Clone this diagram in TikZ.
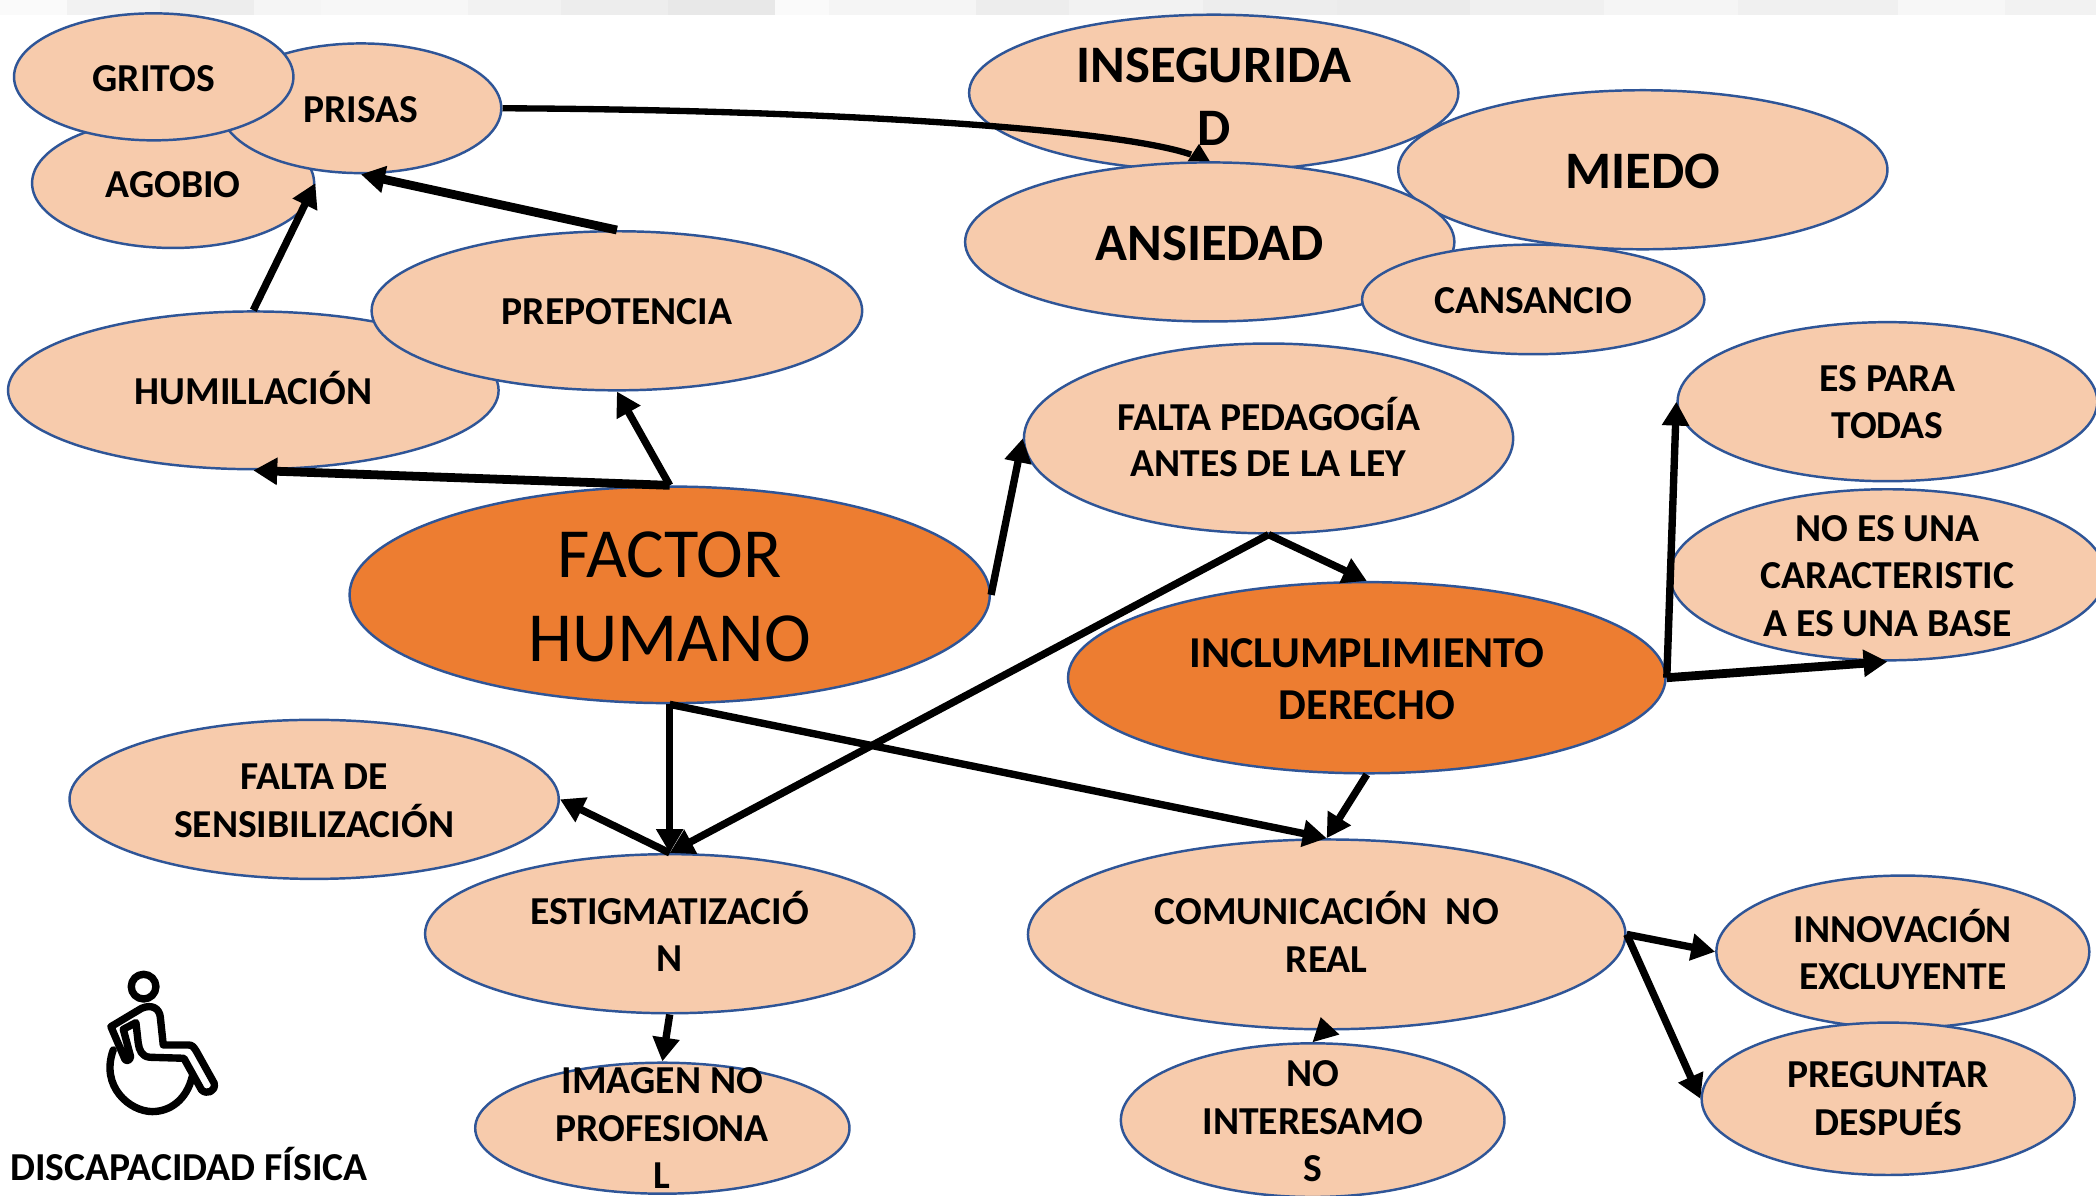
\documentclass[tikz,border=0pt]{standalone}
\usepackage{fontspec}
\setmainfont{Carlito}
\usetikzlibrary{shapes.geometric,arrows.meta}
\definecolor{peach}{HTML}{F7CBAC}
\definecolor{orng}{HTML}{ED7D31}
\definecolor{edgeblue}{HTML}{2F5597}
\tikzset{
  x=0.013367cm,y=-0.013367cm,
  oval/.style={ellipse,draw=edgeblue,line width=0.7pt,fill=peach,inner sep=0pt},
  hot/.style={fill=orng},
  tx/.style={inner sep=0pt,align=center,text=black,font=\bfseries\fontsize{11.27}{13.5}\selectfont},
  txtight/.style={tx,font=\bfseries\fontsize{11.27}{13.2}\selectfont},
  txbig/.style={tx,font=\bfseries\fontsize{15}{17.9}\selectfont},
  arw/.style={-{Triangle[length=6.8pt,width=7.4pt]},line width=2.1pt,black},
  arwb/.style={-{Triangle[length=6.8pt,width=7.4pt]},line width=2.5pt,black},
}
% [text style], name, x, y, width, height, text, extra node options
\newcommand{\ov}[8][tx]{\node[oval,#8,minimum width=#5*0.13367mm,minimum height=#6*0.13367mm,label={[#1]center:#7}] (#2) at (#3,#4) {};}
\begin{document}
\begin{tikzpicture}
\useasboundingbox (0,0) rectangle (1568,894.7);
\fill[white] (0,0) rectangle (1568,894.7);
% blurred strip along the top edge
\foreach \a/\b/\g in {0/50/98,50/120/95,120/190/93,190/240/96,240/350/97,350/420/95,420/500/93,500/580/91,580/620/98,620/730/96,730/800/93,800/900/95,900/1000/93,1000/1100/92,1100/1200/94,1200/1300/96,1300/1420/94,1420/1500/97,1500/1568/95}
  \fill[black!\the\numexpr100-\g\relax] (\a,0) rectangle (\b,11);
% ellipses, back to front
\ov[tx,yshift=-0.38pt]{agobio}{129.5}{137}{211}{97}{AGOBIO}{}
\ov[tx,yshift=-0.38pt]{prisas}{270}{81}{210}{97}{PRISAS}{}
\ov[tx,yshift=-0.38pt]{gritos}{115}{57.5}{209}{95}{GRITOS}{}
\ov[tx,yshift=0.76pt]{humill}{189.5}{292}{367}{118}{HUMILLACIÓN}{}
\ov[tx,yshift=-0.38pt]{prepo}{461.5}{232.5}{367}{119}{PREPOTENCIA}{}
\ov[txbig,yshift=-1pt]{inseg}{908}{69.5}{366}{117}{INSEGURIDA\\D}{}
\ov[txbig,yshift=-0.38pt]{miedo}{1229}{127}{366}{119}{MIEDO}{}
\ov[txbig,yshift=-0.38pt]{ansie}{905}{181}{366}{119}{ANSIEDAD}{}
\ov[tx,yshift=-0.38pt]{cansa}{1147}{224}{256}{82}{CANSANCIO}{}
\ov[txtight,yshift=0.38pt]{falped}{949}{328}{366}{142}{FALTA PEDAGOGÍA\\ANTES DE LA LEY}{}
\ov[tx,yshift=-0.2pt]{espara}{1412}{300.5}{314}{119}{ES PARA\\TODAS}{}
\ov[tx,yshift=-0.38pt]{noes}{1412}{430}{326}{128}{NO ES UNA\\CARACTERISTIC\\A ES UNA BASE}{}
\ov[tx,font=\bfseries\fontsize{12.55}{15}\selectfont,yshift=-0.38pt]{inclu}{1022.5}{507}{447}{143}{INCLUMPLIMIENTO\\DERECHO}{hot}
\ov[tx,font=\fontsize{20.05}{23.9}\selectfont,yshift=-0.7pt]{factor}{501}{445}{479}{162}{FACTOR\\HUMANO}{hot}
\ov[tx,yshift=-0.38pt]{faltade}{235}{598}{366}{119}{FALTA DE\\SENSIBILIZACIÓN}{}
\ov[tx,yshift=0.7pt]{estig}{501}{698.5}{366}{119}{ESTIGMATIZACIÓ\\N}{}
\ov[tx]{imagen}{495.5}{844}{280}{98}{IMAGEN NO\\PROFESIONA\\L}{}
\ov[tx,yshift=0.7pt]{comun}{992.5}{699}{447}{142}{COMUNICACIÓN~ NO\\REAL}{}
\ov[tx,yshift=-0.3pt]{noint}{982}{838}{287}{115}{NO\\INTERESAMO\\S}{}
\ov[tx,yshift=0.6pt]{innov}{1423.5}{712}{279}{114}{INNOVACIÓN\\EXCLUYENTE}{}
\ov[tx]{pregu}{1412.5}{822}{279}{114}{PREGUNTAR\\DESPUÉS}{}
% connectors
\draw[arwb] (factor.north) -- (humill.south);
\draw[arw] (factor.north) -- (prepo.south);
\draw[arwb] (prepo.north) -- (prisas.south);
\draw[arw] (humill.north) -- (agobio.east);
\draw[line width=1.8pt,black] (prisas.east) .. controls (600,82) and (830,95) .. ([shift={(-14,-5)}]ansie.north);
\fill[black] (ansie.north) -- +(-16.5,0) -- +(-8,-13) -- cycle;
\draw[arw] (factor.east) -- (falped.west);
\draw[arw] (falped.south) -- (inclu.north);
\draw[arw] (falped.south) -- (estig.north);
\draw[arw] (factor.south) -- (estig.north);
\draw[arw] (factor.south) -- (comun.north);
\draw[arw] (estig.north) -- (faltade.east);
\draw[arw] (inclu.south) -- (comun.north);
\draw[arw] (inclu.east) -- (espara.west);
\draw[arwb] (inclu.east) -- (noes.south);
\draw[arw] (comun.east) -- (innov.west);
\draw[arw] (comun.east) -- (pregu.west);
\draw[arw] (estig.south) -- (imagen.north);
\fill[black] (noint.north) -- ([shift={(9.5,3)}]comun.south) -- ([shift={(-4.5,-10)}]comun.south) -- cycle;
% wheelchair icon
\begin{scope}[shift={(0,673.3)},x=0.01cm/3,y=-0.01cm/3,line width=2.1pt,line join=round,line cap=round]
\draw (431,260) circle[radius=37];
\draw (375,478) -- (333,380) -- (425,325) .. controls (455,312) and (478,325) .. (481,350) -- (490,435) -- (565,435) .. controls (578,435) and (582,442) .. (590,455) -- (643,550) .. controls (648,575) and (620,585) .. (605,570) -- (552,475) -- (450,472) .. controls (425,470) and (418,450) .. (415,430) -- (408,368) -- (370,388) -- (392,470) .. controls (390,482) and (380,485) .. (375,478) -- cycle;
\draw (340,450) .. controls (300,560) and (390,635) .. (457,635) .. controls (510,635) and (560,600) .. (577,530);
\end{scope}
\node[tx,anchor=west] (disc) at (7,871) {DISCAPACIDAD FÍSICA};
\end{tikzpicture}
\end{document}
